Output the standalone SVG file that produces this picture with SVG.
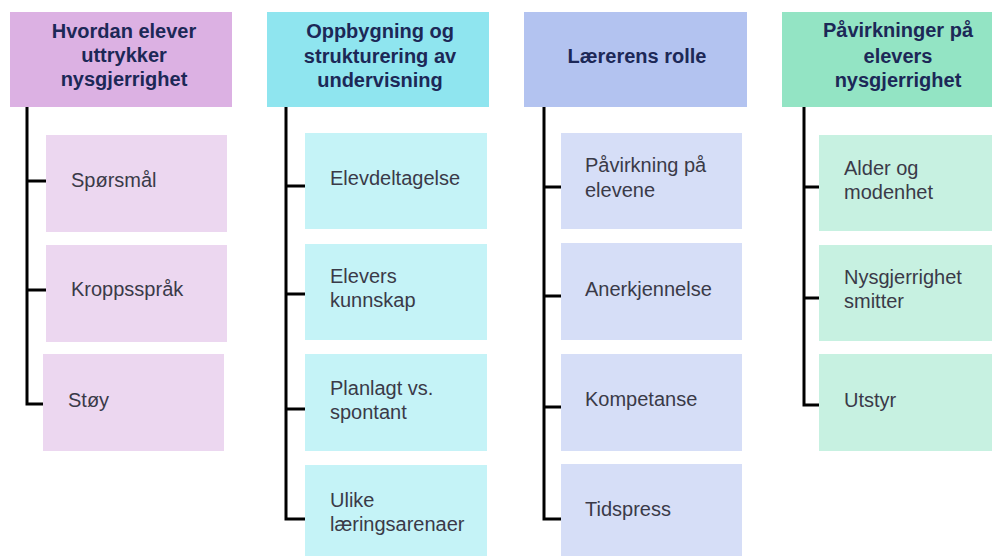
<svg xmlns="http://www.w3.org/2000/svg" width="992" height="556" viewBox="0 0 992 556">
<style>
.h{font-family:"Liberation Sans",Arial,sans-serif;font-weight:bold;font-size:20px;fill:#1c2857;text-anchor:middle}
.t{font-family:"Liberation Sans",Arial,sans-serif;font-size:20px;fill:#3a3a48}
.c{fill:none;stroke:#000;stroke-width:3}
.h1{fill:#dcb1e3}.k1{fill:#ecd7f0}
.h2{fill:#8fe5ef}.k2{fill:#c5f3f7}
.h3{fill:#b3c3f0}.k3{fill:#d6def7}
.h4{fill:#93e4c4}.k4{fill:#c7f1e1}
</style>
<rect width="992" height="556" fill="#fff"/>
<g id="connectors">
<path class="c" d="M27 107V404H46M27 181H46M27 290H46"/>
<path class="c" d="M286 107V519H305M286 186H305M286 294H305M286 409H305"/>
<path class="c" d="M544 107V519H561M544 187H561M544 296H561M544 407H561"/>
<path class="c" d="M804 107V405H819M804 187H819M804 298H819"/>
</g>
<g id="h1"><rect class="h1" x="10" y="12" width="222" height="95"/><text class="h" x="124" y="38">Hvordan elever</text><text class="h" x="124" y="62">uttrykker</text><text class="h" x="124" y="86">nysgjerrighet</text></g>
<g id="c1a"><rect class="k1" x="46" y="135" width="181" height="97"/><text class="t" x="71" y="187">Spørsmål</text></g>
<g id="c1b"><rect class="k1" x="46" y="245" width="181" height="97"/><text class="t" x="71" y="296">Kroppsspråk</text></g>
<g id="c1c"><rect class="k1" x="43" y="354" width="181" height="97"/><text class="t" x="68" y="407">Støy</text></g>

<g id="h2"><rect class="h2" x="267" y="12" width="222" height="95"/><text class="h" x="380" y="38">Oppbygning og</text><text class="h" x="380" y="63">strukturering av</text><text class="h" x="380" y="87">undervisning</text></g>
<g id="c2a"><rect class="k2" x="305" y="133" width="182" height="96"/><text class="t" x="330" y="185">Elevdeltagelse</text></g>
<g id="c2b"><rect class="k2" x="305" y="244" width="182" height="96"/><text class="t" x="330" y="283">Elevers</text><text class="t" x="330" y="307">kunnskap</text></g>
<g id="c2c"><rect class="k2" x="305" y="354" width="182" height="97"/><text class="t" x="330" y="395">Planlagt vs.</text><text class="t" x="330" y="419">spontant</text></g>
<g id="c2d"><rect class="k2" x="305" y="465" width="182" height="95"/><text class="t" x="330" y="507">Ulike</text><text class="t" x="330" y="531">læringsarenaer</text></g>

<g id="h3"><rect class="h3" x="524" y="12" width="223" height="95"/><text class="h" x="637" y="63">Lærerens rolle</text></g>
<g id="c3a"><rect class="k3" x="561" y="133" width="181" height="96"/><text class="t" x="585" y="172">Påvirkning på</text><text class="t" x="585" y="197">elevene</text></g>
<g id="c3b"><rect class="k3" x="561" y="243" width="181" height="97"/><text class="t" x="585" y="296">Anerkjennelse</text></g>
<g id="c3c"><rect class="k3" x="561" y="354" width="181" height="97"/><text class="t" x="585" y="406">Kompetanse</text></g>
<g id="c3d"><rect class="k3" x="561" y="464" width="181" height="96"/><text class="t" x="585" y="516">Tidspress</text></g>

<g id="h4"><rect class="h4" x="782" y="12" width="222" height="95"/><text class="h" x="898" y="37">Påvirkninger på</text><text class="h" x="898" y="63">elevers</text><text class="h" x="898" y="87">nysgjerrighet</text></g>
<g id="c4a"><rect class="k4" x="819" y="135" width="182" height="96"/><text class="t" x="844" y="175">Alder og</text><text class="t" x="844" y="199">modenhet</text></g>
<g id="c4b"><rect class="k4" x="819" y="245" width="182" height="96"/><text class="t" x="844" y="284">Nysgjerrighet</text><text class="t" x="844" y="308">smitter</text></g>
<g id="c4c"><rect class="k4" x="819" y="354" width="182" height="97"/><text class="t" x="844" y="407">Utstyr</text></g>
</svg>
